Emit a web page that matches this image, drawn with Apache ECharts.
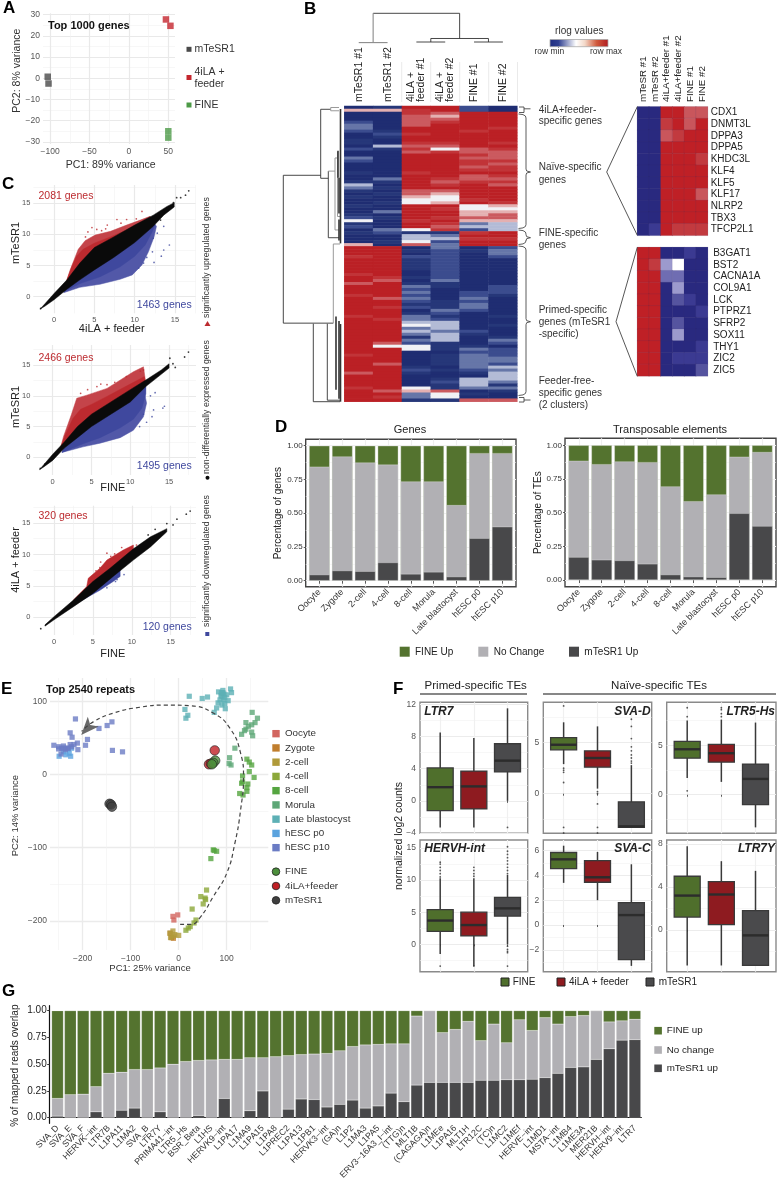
<!DOCTYPE html>
<html><head><meta charset="utf-8">
<style>html,body{margin:0;padding:0;background:#fff}#c{width:778px;height:1186px}</style>
<script src="https://cdn.jsdelivr.net/npm/echarts@6/dist/echarts.min.js"></script>
</head><body><div id="c"></div>
<script>
// ---------- Panel A ----------
const pcaMTeSR = [[-103,0.7],[-102,-2.5]];
const pca4iLA = [[47,27.7],[52.7,24.7]];
const pcaFINE = [[50,-25],[50,-28]];
// ---------- Panel B (levels 0 = row min ... 9 = row max), one char per row ----------
const heatColumns = ['mTeSR1 #1','mTeSR1 #2','4iLA #1','4iLA #2','FINE #1','FINE #2'];
const heatTop = [
 '0 6 0 0 0 2 3 3 2 0 0 1 1 0 2 0 0 3 2 0 0 0 1 0 0 1 4 3 1 0 1 0 0 1 0 0 1 2 5 1 2 0 1 0 0 0 6',
 '1 6 0 0 0 0 0 0 1 2 1 0 0 4 1 0 0 0 0 0 0 0 0 0 3 1 0 1 0 1 0 0 1 0 0 3 0 1 0 0 0 3 2 0 0 1 0',
 '9 8 8 7 7 7 7 9 9 8 9 9 8 7 8 7 9 9 9 9 9 9 8 9 9 9 9 9 7 7 6 5 5 9 9 9 9 9 8 9 9 5 1 4 4 5 7',
 '9 9 7 6 7 8 9 9 9 9 9 9 8 7 5 8 9 9 9 9 9 9 9 9 8 7 8 9 7 6 5 5 6 9 8 9 9 8 9 8 7 8 1 3 4 2 3',
 '2 2 9 9 9 9 9 9 8 9 9 9 9 9 7 7 8 7 8 8 7 8 9 7 7 8 9 9 9 9 9 8 9 5 5 6 6 7 6 3 4 2 8 9 8 9 9',
 '0 0 9 9 9 9 9 8 9 9 9 9 8 9 8 7 7 7 8 7 8 8 9 8 7 8 7 9 9 9 9 9 8 6 5 6 7 7 6 4 4 4 9 9 8 9 9'];
const heatBottom = [
 '9 9 9 8 9 9 9 9 9 8 9 9 7 9 9 9 8 9 9 9 9 9 9 8 9 9 9 9 9 9 9 9 9 9 9 9 8 9 9 9 9 9 7 9 9 9 9 8 9 9 9 9',
 '9 9 9 9 9 9 9 9 9 9 8 7 9 9 9 9 9 7 9 9 8 9 9 9 8 9 9 9 9 9 9 9 7 5 9 9 9 9 9 7 9 9 9 9 9 9 9 9 7 9 8 9',
 '0 1 0 2 1 1 1 1 0 0 1 0 1 3 2 3 2 3 2 1 2 0 1 3 3 4 5 3 4 3 1 3 2 5 5 0 0 0 0 0 1 2 1 0 0 0 0 5 6 3 3 1',
 '3 2 2 2 2 2 2 2 2 2 2 3 1 1 0 0 0 0 1 1 1 3 2 1 2 4 4 4 3 4 4 4 1 1 1 0 1 1 1 1 0 1 0 0 1 2 1 1 7 5 5 1',
 '0 1 0 0 0 0 0 0 0 0 0 0 0 0 0 2 2 3 2 3 3 2 0 0 0 0 0 0 2 1 0 0 0 1 3 2 3 3 3 3 3 2 1 0 4 4 4 3 0 1 0 7',
 '2 3 3 2 0 0 0 0 0 0 0 0 0 2 2 2 1 0 0 0 0 0 0 1 0 0 1 0 0 0 1 3 2 0 2 2 2 3 3 2 4 3 4 4 4 3 1 3 1 0 0 7'];
const naiveGenes = ['CDX1','DNMT3L','DPPA3','DPPA5','KHDC3L','KLF4','KLF5','KLF17','NLRP2','TBX3','TFCP2L1'];
const naiveLevels = [[0,0,9,9,7,7],[0,0,8,9,7,9],[0,0,7,8,9,9],[0,0,9,9,9,9],[0,0,9,9,9,8],[0,0,9,9,9,9],[0,0,9,9,9,9],[0,0,9,9,9,7],[0,0,9,9,9,9],[0,0,9,9,9,9],[0,1,9,8,8,8]];
const primedGenes = ['B3GAT1','BST2','CACNA1A','COL9A1','LCK','PTPRZ1','SFRP2','SOX11','THY1','ZIC2','ZIC5'];
const primedLevels = [[9,9,0,0,1,0],[9,8,4,5,0,0],[9,9,3,3,0,0],[9,9,0,4,0,0],[9,9,0,2,1,0],[9,9,0,0,0,1],[9,9,0,2,0,0],[9,9,0,4,0,0],[9,9,0,0,0,1],[9,9,0,1,1,1],[9,9,0,0,0,2]];
// dendrogram segments: [x1,y1,x2,y2]
const topDendroDark = [[1,1,4,1],[4,0.14,4,1],[3,0.14,5,0.14],[3,0.02,3,0.14],[5,0.02,5,0.14],[2.5,0.02,3.5,0.02],[4.5,0.02,5.5,0.02]];
const topDendroGrey = [[1,0,1,1],[0.5,0,1.5,0]];
const rowDendroDark = [[58.7,23.2,58.7,72.7],[58.7,23.2,21.3,23.2],[58.7,72.7,8.7,72.7],[21.3,1.1,21.3,24.2],[21.3,1.1,11.3,1.1],[21.3,24.2,13.7,24.2],[13.7,21.8,13.7,44.1],[13.7,44.1,3,44.1],[28.7,72.9,28.7,99],[28.7,99,2,99],[14.7,72.9,14.7,98.5],[14.7,98.5,2,98.5]];
const rowDendroGrey = [[7,21.8,13.7,21.8],[7,17.4,7,41.5],[7,17.4,4.5,17.4],[7,41.5,3,41.5],[4.5,15.3,4.5,37],[4.5,37,2,37],[11.3,0.5,3,0.5],[11.3,1.6,3,1.6],[11.3,0.5,11.3,1.6],[8.7,46.2,2,46.2],[8.7,46.2,8.7,72.7]];
const rowDendroThick = [[4,15,4,24],[3,24,3,36],[3,38,3,45],[6,70.5,6,95],[3,72,3,98],[1.5,1,1.5,46],[1.5,73,1.5,99]];
// ---------- Panel C: outlines of the dense point clouds and the single points readable outside them ----------
const c1Black = [[-1.74,-2],[-1.1,-1.1],[0,.5],[1.6,2.7],[3.2,5.4],[5,7.9],[7.4,9.6],[10,11.5],[12.3,13.1],[14,14.5],[14.9,15.1],[14.9,14.4],[13.6,13.1],[12.3,11.3],[10,8.7],[7.4,6.3],[5,4.3],[3.2,2.7],[1.6,1.2],[0,-.5],[-1.1,-1.5]];
const c1Red = [[1.6,2.7],[2,4.3],[2.6,6.3],[3,7.6],[3.85,9],[5.1,9.9],[7,10.5],[9,11.5],[10.7,12.3],[11.9,12.9],[12.3,12.2],[10,10],[7.4,8],[5,6],[3.2,4],[1.6,2]];
const c1RedIn = [[1.6,2.7],[2.2,4.8],[2.8,6.5],[3.6,7.6],[5,8.6],[7,9.6],[9,10.7],[10.7,11.8],[12,12.6],[12.3,12.2],[10,10],[7.4,8],[5,6],[3.2,4],[1.6,2]];
const c1Blue = [[1.2,.65],[3.2,1.5],[5.7,2],[8.2,2.8],[9.7,3.5],[10.9,5.1],[11.7,7.2],[12.4,9.6],[12.7,11.3],[12.3,12],[10,10],[7.4,8],[5,6],[3.2,4],[1.6,2]];
const c1BlueIn = [[1.2,.8],[3.2,2.1],[5.7,3.2],[8.2,4.8],[10,6.5],[11.3,8.3],[12.2,10.5],[12.5,11.6],[12.3,12],[10,10],[7.4,8],[5,6],[3.2,4],[1.6,2]];
const c1RedPts = [[7.8,12.4],[5.3,10.8],[4.7,11.1],[3.9,9.6],[6.4,10.9],[9,12.4],[10.2,12.5],[10.9,13.7],[6.6,11.5],[8.3,11.8],[4.2,10.4],[5.9,10.6]];
const c1BluePts = [[14.3,8.3],[13.6,7.5],[13.3,6.5],[12.2,7.2],[12.4,5.5],[11.1,5.4],[10.5,4.6],[12.8,10.2],[13.6,11.3],[12.3,9.4],[11.5,6.3]];
const c1BlackPts = [[-1.66,-1.9],[15.7,15.9],[15.2,15.9],[16.3,16.3],[16.7,17],[14.8,15.1],[13.6,13.7],[13.2,12.3]];
const c2Black = [[-1.7,-2],[0,.5],[1.5,2.5],[3.2,5],[5,7],[7.5,9],[10,11],[12.3,12.8],[14,14.2],[15,15.2],[15,14.5],[13.5,13],[12,11.5],[10,9],[7.5,7],[5,5],[3.2,3.2],[1.5,1.5],[0,-.5],[-1.2,-1.6]];
const c2Red = [[1,1.5],[1.4,3.4],[2.4,6.9],[3.1,9.6],[4.4,10.1],[7,11.2],[10.4,13.9],[11.7,14.7],[12,12],[10,10],[7.5,8],[5,6],[3.2,4],[1.5,2]];
const c2RedIn = [[1,1.5],[1.6,3.6],[2.6,6.3],[3.6,7.8],[5,8.6],[7,9.9],[10,11.9],[11.8,13.1],[12,12],[10,10],[7.5,8],[5,6],[3.2,4],[1.5,2]];
const c2Blue = [[1.2,.8],[3.9,1.7],[6.1,2.3],[8.7,3.2],[10.4,4.4],[11.7,6.6],[12.1,8.8],[11.9,10.1],[12,12],[10,10],[7.5,8],[5,6],[3.2,4],[1.5,2]];
const c2BlueIn = [[1.2,.8],[3.9,2.2],[6.1,3.2],[8.7,4.8],[10.4,6.2],[11.5,8],[12,10.3],[12,12],[10,10],[7.5,8],[5,6],[3.2,4],[1.5,2]];
const c2RedPts = [[11.7,14.2],[11.3,14],[9.5,13.1],[5.7,11.5],[4.5,11],[8,12.2],[7,11.8],[3.6,10.4],[6.2,11.9]];
const c2BluePts = [[14.4,8.3],[14.2,8],[12.8,6.6],[12.1,5.7],[11.7,7],[13,7.7],[11.2,5],[13.2,10.5],[12.6,10]];
const c2BlackPts = [[-1.6,-1.8],[-1,-1.1],[17.5,17.1],[17,16.3],[15.8,14.6],[15.1,16.1],[15.5,15.2]];
const c3Black = [[-1.16,-1.2],[0,.1],[2.5,2.75],[5,5.7],[7.2,7.8],[10.2,10.9],[12.4,12.8],[14.5,14.1],[14.5,13.6],[12.4,11.2],[10.2,9.1],[7.6,6.5],[5,3.8],[2.5,1.7],[0,-.4],[-1.16,-1.4]];
const c3Red = [[2.5,2.75],[4.2,4.9],[4.4,6.2],[5.9,7.8],[6.8,9.1],[8.9,10.7],[10.2,11.5],[10.2,10],[7.2,7.5],[5,5],[2.5,2.3]];
const c3Blue = [[3.3,2.5],[5.9,4.3],[7.6,5.7],[8.5,6.5],[8.5,8],[5,5],[3,3]];
const c3RedPts = [[6.8,10.2],[7.3,9.7],[8.7,11.1],[10.6,11.5],[5.9,7.9],[5.4,7.4],[6,8.8],[7.8,10.1]];
const c3BluePts = [[9,6.8],[7.9,5.7],[8.1,6],[6.8,4.7]];
const c3BlackPts = [[-1.7,-1.8],[17.5,16.9],[17,16.4],[15.8,15.6],[13,14],[12.1,13.1],[14.5,14.9],[15.3,14.7]];
// ---------- Panel D ----------
const stages = ['Oocyte','Zygote','2-cell','4-cell','8-cell','Morula','Late blastocyst','hESC p0','hESC p10'];
const genesMTeSR = [.045,.075,.07,.135,.05,.065,.03,.315,.40];
const genesNoChangeTop = [.845,.92,.875,.86,.735,.735,.56,.945,.945];
const tesMTeSR = [.17,.15,.145,.12,.04,.025,.02,.495,.40];
const tesNoChangeTop = [.885,.86,.88,.875,.695,.585,.635,.915,.95];
const wholeBar = [1,1,1,1,1,1,1,1,1];
// ---------- Panel E ----------
const oocyte = [[-2,-192],[-12,-194],[-10,-199]];
const zygote = [[-18,-217],[-15,-223],[-11,-224]];
const cell2 = [[-12,-214],[-18,-217],[-8,-219],[0,-220],[-17,-223],[-11,-221]];
const cell4 = [[58,-158],[46,-167],[55,-169],[56,-171],[51,-177],[28,-184],[36,-199],[32,-203],[24,-208],[20,-210],[15,-213]];
const cell8 = [[142,21],[147,17],[152,13],[147,4],[157,-4],[133,-2],[133,-10],[131,-12],[144,-13],[142,-18],[142,-23],[127,-26],[134,-28],[72,-103],[74,-104],[79,-105],[67,-115]];
const morula = [[153,85],[140,71],[164,77],[159,71],[152,68],[145,66],[140,62],[137,60],[131,55],[152,58],[154,53],[117,36],[106,23],[105,15],[109,13]];
const lateBlast = [[22,107],[49,104],[60,106],[13,89],[19,81],[15,77],[83,113],[92,115],[108,117],[110,112],[100,109],[94,110],[90,107],[86,102],[93,102],[103,101],[79,91],[74,85],[97,90],[90,95],[96,97],[88,108],[92,112],[96,105],[82,98],[89,112]];
const hescP0 = [[-269,17],[-249,25],[-235,27],[-225,25],[-228,29],[-223,36],[-240,31],[-230,35]];
const hescP10 = [[-215,76],[-226,57],[-222,51],[-190,48],[-166,63],[-149,67],[-139,72],[-138,33],[-117,31],[-194,40],[-210,34],[-260,40],[-240,39],[-250,38],[-250,35],[-244,36],[-233,36],[-226,41],[-218,41],[-211,43],[-236,34],[-230,36],[-245,28],[-223,38],[-240,36]];
const fineE = [[76,19],[72,16],[69,14]];
const feederE = [[75,33],[63,14],[67,15]];
const mtesrE = [[-144,-40],[-141,-41],[-139,-44]];
const trajectory = [[3,-205],[25,-205],[44,-196],[72,-167],[100,-135],[117,-94],[129,-48],[135,-3],[129,29],[107,63],[72,84],[24,94],[-25,95],[-81,92],[-136,84],[-178,72],[-202,59]];
const trajectoryHead = [[-203,54]];
// ---------- Panel F: [low,q1,median,q3,high] for FINE, 4iLA + feeder, mTeSR1 ----------
const ltr7Box = [[-3.3,-1.2,1.7,4.1,8.5],[-3.3,-1,1.8,3.7,7.8],[0,3.6,5,7.1,11.5]];
const ltr7Out = [[3,-3.3]];
const hervhBox = [[-1.5,2,3.7,5.4,10.3],[-3.4,1.3,3,5,10.3],[0,4.4,5.6,7.3,10.8]];
const hervhOut = [[1,10.5],[1,11],[1,11.5],[1,12],[1,12.5],[1,12.8],[1,-3.4],[2,10.6],[2,11],[2,11.5],[2,12],[2,-3.4],[3,11],[3,11.5],[3,12],[3,12.5],[3,13],[3,13.5],[3,14],[3,14.5],[3,15.2],[3,-.3],[3,-.8],[3,-1.1],[3,-1.3],[3,-3.4]];
const svadBox = [[2.9,4.3,4.8,5.5,7],[.5,2.6,3.5,4.2,6.6],[-3.3,-3.3,-3.2,-.8,2.8]];
const svadOut = [[1,8.6],[1,2.5],[1,2.3],[1,2.1],[1,1.1],[1,-3.3],[1,-3.85],[2,.2],[2,0],[2,-1],[2,-3.3],[2,-3.85],[3,3],[3,3.2],[3,3.5],[3,3.8],[3,4.2],[3,4.6],[3,5.4],[3,6.6],[3,7.3]];
const svacBox = [[3.4,4.55,5.3,5.85,6.4],[2,3.45,3.85,5.2,5.9],[-3.3,-2.8,.8,1.8,4.9]];
const ltr5Box = [[1.7,3.7,4.6,5.4,7.5],[1.3,3.3,4.2,5.1,7.6],[-3.3,-1,1.6,3.1,7.3]];
const ltr5Out = [[1,.4],[1,7.9],[1,8.8],[2,7.9],[2,8.2],[2,8.6],[2,8.8]];
const ltr7yBox = [[-3.3,1.2,3.2,5,7.8],[-3.3,.5,3.3,4.5,6.4],[-3.3,-3.3,-.5,1.8,5.5]];
// ---------- Panel G ----------
const repeats = ['SVA_D','SVA_E','SVA_F','HERVK\u2212int','LTR7B','L1PA11','L1MA2','SVA_B','LTR7Y','PRIMA41\u2212int','LTR5_Hs','BSR_Beta','L1HS','HERVK9\u2212int','L1PA17','L1MA9','L1PA15','L1PA8','L1PREC2','L1PA13','L1PB1','HERVK3\u2212int','(GA)n','L1P2','L1MA3','L1PA5','ERV3\u221216A3_I\u2212int','(TTG)n','MLT1B','(CAGAGA)n','L1MEe','L1PA16','MLT1H','LTR12C','(TC)n','L1MC2','L1MEf','HERVE\u2212int','L1MD1','MSTA\u2212int','L1MB4','L1ME3A','MER21B','HERVH\u2212int','HERV9\u2212int','LTR7'];
const repeatMTeSR = [.015,0,0,.055,0,.07,.09,0,.055,0,0,.02,0,.18,0,.065,.25,0,.08,.175,.17,.10,.125,.165,.09,.11,.23,.15,.305,.33,.33,.33,.33,.35,.35,.355,.355,.36,.375,.415,.47,.475,.545,.645,.725,.73];
const repeatNoChangeTop = [.18,.215,.22,.29,.415,.425,.45,.45,.465,.50,.525,.535,.54,.545,.545,.56,.56,.57,.58,.59,.595,.60,.625,.665,.68,.685,.69,.69,.95,1,.795,.825,.90,.72,.875,.70,.915,.815,.935,.875,.945,.955,1,.895,.905,.92];

// ---------- helpers ----------
const FONT = '"Liberation Sans", Arial, sans-serif';
const GREEN='#54732f', GREY='#b1b0b4', DARK='#48484a', TE_GREEN='#4f6f2c', TE_RED='#8e1b20', TE_DARK='#4a4a4c';
const grids=[], xAxes=[], yAxes=[], series=[], gfx=[];
const minus = v => String(v).replace('-','\u2212');
function addGrid(l,t,r,b,x,y,frame){
  const g=grids.length;
  grids.push({left:l,top:t,width:r-l,height:b-t,containLabel:false,outerBoundsMode:'none',show:!!frame,borderColor:frame||'#000',borderWidth:frame?1.4:0,backgroundColor:'transparent'});
  const xi=xAxes.length, yi=yAxes.length;
  xAxes.push(mk(g,x,'bottom')); yAxes.push(mk(g,y,'left'));
  if(x.minor) xAxes.push(minorAxis(g,x,'top'));
  if(y.minor) yAxes.push(minorAxis(g,y,'right'));
  return {xAxisIndex:xi,yAxisIndex:yi};
}
function mk(g,a,pos){
  if(a.hidden) return {type:a.type||'value',data:a.data,gridIndex:g,min:a.min,max:a.max,show:false,inverse:a.inverse,position:pos};
  return {type:'value',gridIndex:g,position:pos,min:a.min,max:a.max,
    axisLine:{show:false},
    axisTick:{show:!!a.tick,customValues:a.major,length:a.tick||3,lineStyle:{color:'#333',width:.8}},
    axisLabel:{customValues:a.major,fontSize:a.size||8.5,color:a.color||'#555',fontFamily:FONT,margin:a.margin||3,rotate:a.rotate||0,formatter:a.fmt||minus,hideOverlap:false},
    splitLine:{show:!a.nogrid,lineStyle:{color:a.gridColor||'#e9e9e9',width:a.gridW||1.2}}};
}
function minorAxis(g,a,pos){
  return {type:'value',gridIndex:g,position:pos,min:a.min,max:a.max,axisLine:{show:false},
    axisTick:{show:false,customValues:a.minor},axisLabel:{show:false},
    splitLine:{show:true,lineStyle:{color:'#f2f2f2',width:.6}}};
}
function txt(x,y,s,o){o=o||{};
  gfx.push({type:'text',x,y,rotation:o.rot?Math.PI/2:0,silent:true,z:50,style:{text:s,fontFamily:FONT,fontSize:o.size||10,fontWeight:o.bold?'bold':'normal',fontStyle:o.italic?'italic':'normal',fill:o.color||'#222',textAlign:o.align||'left',textVerticalAlign:'middle',verticalAlign:'middle'}});
}
function rect(x,y,w,h,fill,stroke){gfx.push({type:'rect',silent:true,z:50,shape:{x,y,width:w,height:h},style:{fill,stroke:stroke||null,lineWidth:stroke?1:0}});}
function circ(x,y,r,fill,stroke){gfx.push({type:'circle',silent:true,z:50,shape:{cx:x,cy:y,r},style:{fill,stroke:stroke||null,lineWidth:stroke?.8:0}});}
function pl(pts,color,w){gfx.push({type:'polyline',silent:true,z:50,shape:{points:pts},style:{stroke:color||'#333',lineWidth:w||.9,fill:null}});}
function pts(a,name,ix,color,size,extra){series.push(Object.assign({type:'scatter',name,data:a,symbol:'rect',symbolSize:size,itemStyle:{color},silent:true,animation:false},ix,extra||{}));}
function poly(a,ix,fill){series.push(Object.assign({type:'custom',data:[a[0]],silent:true,animation:false,clip:false,
  renderItem:(p,api)=>({type:'polygon',shape:{points:a.map(q=>api.coord(q))},style:{fill,stroke:fill,lineWidth:.5}})},ix));}
function segs(a,ix,color,w){series.push(Object.assign({type:'custom',data:a,silent:true,animation:false,clip:false,encode:{x:[0,2],y:[1,3]},
  renderItem:(p,api)=>{const s=api.coord([api.value(0),api.value(1)]),e=api.coord([api.value(2),api.value(3)]);
    return {type:'line',shape:{x1:s[0],y1:s[1],x2:e[0],y2:e[1]},style:{stroke:color,lineWidth:w,fill:null}};}},ix));}

// ---------- A ----------
{const ix=addGrid(43,13.3,175,144,{min:-109,max:58.5,major:[-100,-50,0,50],minor:[-75,-25,25]},{min:-31,max:30.6,major:[-30,-20,-10,0,10,20,30],minor:[-25,-15,-5,5,15,25]});
 pts(pcaMTeSR,'mTeSR1',ix,'#4a4a4a',6.5); pts(pca4iLA,'4iLA + feeder',ix,'#c4262e',6.5); pts(pcaFINE,'FINE',ix,'#4c9a47',6.5);
 txt(48,25.7,'Top 1000 genes',{bold:true,size:11,color:'#111'});
 txt(110.7,164.7,'PC1: 89% variance',{align:'center',size:10.5,color:'#333'});
 txt(17,70.7,'PC2: 8% variance',{rot:true,align:'center',size:10.5,color:'#333'});
 rect(186.5,46.8,5,5,'#4a4a4a');txt(194.5,49.5,'mTeSR1',{size:10.5,color:'#333'});
 rect(186.5,75,5,5,'#c4262e');txt(194.5,71.7,'4iLA +',{size:10.5,color:'#333'});txt(194.5,84,'feeder',{size:10.5,color:'#333'});
 rect(186.5,102.5,5,5,'#4c9a47');txt(194.5,105,'FINE',{size:10.5,color:'#333'});
}
// ---------- B ----------
const rowCount=99;
const heatCols=heatTop.map((t,i)=>(t+' '+heatBottom[i]).replace(/ /g,''));
const catIdx=n=>Array.from({length:n},(_,i)=>String(i));
let heatSeriesMain, heatSeriesSmall=[];
{const ix=addGrid(344.3,106,517.3,401.7,{hidden:true,type:'category',data:heatColumns},{hidden:true,type:'category',data:catIdx(rowCount),inverse:true});
 const d=[];heatCols.forEach((s,c)=>{for(let r=0;r<s.length;r++)d.push([c,r,+s[r]]);});
 heatSeriesMain=series.length;
 series.push(Object.assign({type:'heatmap',data:d,silent:true,animation:false,progressive:0,itemStyle:{borderWidth:0}},ix));
 const t=addGrid(344.3,13.3,517.3,42.6,{hidden:true,min:0,max:6},{hidden:true,min:0,max:1});
 segs(topDendroDark,t,'#333',.9);segs(topDendroGrey,t,'#8a8a8a',1.1);
 const l=addGrid(270,106,342,401.7,{hidden:true,min:72,max:0},{hidden:true,min:0,max:99,inverse:true});
 segs(rowDendroDark,l,'#333',.9);segs(rowDendroGrey,l,'#999',1);segs(rowDendroThick,l,'#333',1.6);
}
function smallHeat(top,genes,levels,right){
 const grid=grids.length;
 grids.push({left:637.3,top,width:70.4,height:128.7,containLabel:false,outerBoundsMode:'none'});
 xAxes.push({type:'category',gridIndex:grid,data:['a','b','c','d','e','f'],show:false});
 const yi=yAxes.length;
 yAxes.push({type:'category',gridIndex:grid,data:genes,inverse:true,position:'right',axisLine:{show:false},axisTick:{show:false},splitLine:{show:false},
   axisLabel:{interval:0,fontSize:10,color:'#222',fontFamily:FONT,margin:right}});
 const d=[];levels.forEach((row,r)=>row.forEach((v,c)=>d.push([c,r,v])));
 heatSeriesSmall.push(series.length);
 series.push({type:'heatmap',xAxisIndex:xAxes.length-1,yAxisIndex:yi,data:d,silent:true,animation:false,progressive:0,itemStyle:{borderWidth:.4,borderColor:'rgba(70,60,110,.3)'}});
}
smallHeat(106.7,naiveGenes,naiveLevels,3);
smallHeat(247.3,primedGenes,primedLevels,5.5);
// B annotation
[['mTeSR1 #1',359.3],['mTeSR1 #2',388]].forEach(a=>txt(a[1],102,a[0],{rot:true,size:10.5}));
txt(411.5,102,'4iLA +',{rot:true,size:10.5});txt(421.5,102,'feeder #1',{rot:true,size:10.5});
txt(440,102,'4iLA +',{rot:true,size:10.5});txt(450,102,'feeder #2',{rot:true,size:10.5});
txt(474,102,'FINE #1',{rot:true,size:10.5});txt(502.7,102,'FINE #2',{rot:true,size:10.5});
[401.7,430.7,459.7,488.7,517.5].forEach(x=>pl([[x,62],[x,102]],'#e4e4e4',.8));
['mTeSR #1','mTeSR #2','4iLA+feeder #1','4iLA+feeder #2','FINE #1','FINE #2'].forEach((s,i)=>txt(643.2+i*11.73,102,s,{rot:true,size:9.8}));
txt(579.3,31,'rlog values',{align:'center',size:10,color:'#333'});
txt(549.3,51.5,'row min',{align:'center',size:8.5,color:'#333'});
txt(606,51.5,'row max',{align:'center',size:8.5,color:'#333'});
gfx.push({type:'rect',silent:true,z:50,shape:{x:550,y:39.5,width:58,height:7.2},style:{stroke:'#aaa',lineWidth:.8,fill:new echarts.graphic.LinearGradient(0,0,1,0,[{offset:0,color:'#1f2d80'},{offset:.15,color:'#2f3f90'},{offset:.45,color:'#ffffff'},{offset:.6,color:'#f3d8c8'},{offset:.8,color:'#d05a3c'},{offset:1,color:'#b01a20'}])}});
[['4iLA+feeder-',110],['specific genes',121.7],['Na\u00efve-specific',167.7],['genes',180.3],['FINE-specific',233.3],['genes',245.7],['Primed-specific',310.3],['genes (mTeSR1',322.7],['-specific)',334.3],['Feeder-free-',381],['specific genes',393.3],['(2 clusters)',405]].forEach(a=>txt(538.7,a[1],a[0],{size:10,color:'#333'}));
function brace(y0,ym,y1){const x0=518.5,x1=526,x2=530.5;
 pl([[x0,y0],[x1-3,y0+.6],[x1-.6,y0+2],[x1,y0+4],[x1,ym-3],[x1+.7,ym-1],[x2,ym],[x1+.7,ym+1],[x1,ym+3],[x1,y1-4],[x1-.6,y1-2],[x1-3,y1-.6],[x0,y1]],'#333',.8);}
pl([[519,107],[524,107],[524,112.5],[519,112.5]],'#333',.8);pl([[524,108.8],[530.5,108.8]],'#333',.8);
brace(114,172,228.5);brace(230,237.7,244.5);brace(246,321.7,395.5);
pl([[519,397.5],[524,397.5],[524,402],[519,402]],'#333',.8);pl([[524,400],[530.5,400]],'#333',.8);
pl([[637.3,106.7],[606.7,172],[637.3,235.3]],'#444',.9);
pl([[637.3,247.3],[616,321.7],[637.3,376.3]],'#444',.9);
// ---------- C ----------
const RED='#bc2a2f',BLUE='#3f489e',BLK='#0a0a0a',RED_OUT='#c4444a',BLUE_OUT='#5258a8';
const cPanels=[
 {box:[33.3,185,196,313.3],x:[-2.57,17.6],y:[-2.67,17.94],black:c1Black,red:c1Red,redIn:c1RedIn,blue:c1Blue,blueIn:c1BlueIn,rp:c1RedPts,bp:c1BluePts,kp:c1BlackPts},
 {box:[33.3,345,196,475],x:[-2.5,18.47],y:[-2.87,18.25],black:c2Black,red:c2Red,redIn:c2RedIn,blue:c2Blue,blueIn:c2BlueIn,rp:c2RedPts,bp:c2BluePts,kp:c2BlackPts},
 {box:[33.3,505.7,196,635],x:[-2.66,18.25],y:[-2.81,17.75],black:c3Black,red:c3Red,blue:c3Blue,rp:c3RedPts,bp:c3BluePts,kp:c3BlackPts}];
cPanels.forEach(p=>{
 const ix=addGrid(p.box[0],p.box[1],p.box[2],p.box[3],{min:p.x[0],max:p.x[1],major:[0,5,10,15],minor:[2.5,7.5,12.5,17.5],size:7.5},{min:p.y[0],max:p.y[1],major:[0,5,10,15],minor:[2.5,7.5,12.5,17.5],size:7.5});
 if(p.redIn){poly(p.red,ix,RED_OUT);poly(p.redIn,ix,RED);poly(p.blue,ix,BLUE_OUT);poly(p.blueIn,ix,BLUE);}
 else{poly(p.red,ix,RED);poly(p.blue,ix,BLUE);}
 poly(p.black,ix,BLK);
 const e={symbol:'circle'};
 pts(p.rp,'up',ix,RED,1.7,e);pts(p.bp,'down',ix,BLUE,1.7,e);pts(p.kp,'ns',ix,BLK,1.8,e);
});
[['2081 genes',196,'1463 genes',305],['2466 genes',358,'1495 genes',466],['320 genes',516,'120 genes',627]].forEach(a=>{
 txt(38.5,a[1],a[0],{size:10.5,color:RED});txt(191.7,a[3],a[2],{size:10.5,color:BLUE,align:'right'});});
txt(111.7,329,'4iLA + feeder',{align:'center',size:11});
txt(112.7,487.7,'FINE',{align:'center',size:11});
txt(112.7,654,'FINE',{align:'center',size:11});
txt(16,243,'mTeSR1',{rot:true,align:'center',size:11});
txt(16,407,'mTeSR1',{rot:true,align:'center',size:11});
txt(16,560,'4iLA + feeder',{rot:true,align:'center',size:11});
txt(207,257.5,'significantly upregulated genes',{rot:true,align:'center',size:8.8,color:'#333'});
txt(207,407,'non-differentially expressed genes',{rot:true,align:'center',size:8.8,color:'#333'});
txt(207,561,'significantly downregulated genes',{rot:true,align:'center',size:8.8,color:'#333'});
gfx.push({type:'polygon',silent:true,z:50,shape:{points:[[207.5,321],[204.5,326],[210.5,326]]},style:{fill:RED}});
circ(207.5,477.7,2,BLK);rect(205.3,632,4,4,BLUE);
// ---------- D ----------
function stack(box,upper,cum,title,ylab,ytop,ybot,ylabX,titleX){
 const per=(ybot-ytop);
 const ix=addGrid(box[0],box[1],box[2],box[3],
  {min:.4,max:9.6,major:[1,2,3,4,5,6,7,8,9],size:9,color:'#333',rotate:45,tick:3,margin:4,fmt:v=>stages[v-1],gridColor:'#efefef'},
  {min:-(box[3]-ybot)/per,max:1+(ytop-box[1])/per,major:[0,.25,.5,.75,1],minor:[.125,.375,.625,.875],size:8,color:'#333',tick:2,margin:3,fmt:v=>v.toFixed(2),gridColor:'#efefef'},'#444');
 // each bar runs from 0 to the top of its segment; later series paint over earlier ones
 const b=(name,vals,color)=>series.push(Object.assign({type:'bar',name,barGap:'-100%',data:vals.map((v,i)=>[i+1,v]),barWidth:20.6,silent:true,animation:false,itemStyle:{color,borderColor:'rgba(235,235,235,.7)',borderWidth:.5}},ix));
 b('FINE Up',wholeBar,GREEN);b('No Change',cum,GREY);b('mTeSR1 Up',upper,DARK);
 txt(titleX,430,title,{align:'center',size:11,color:'#222'});
 txt(ylabX,(ytop+ybot)/2,ylab,{rot:true,align:'center',size:10,color:'#222'});
}
stack([305.7,439.3,516,586.7],genesMTeSR,genesNoChangeTop,'Genes','Percentage of genes',445.7,580.7,278.3,410);
stack([565,438.3,776,586.7],tesMTeSR,tesNoChangeTop,'Transposable elements','Percentage of TEs',445.3,580,538,670);
[[404.7,'FINE Up',GREEN,414],[483.3,'No Change',GREY,492.7],[574,'mTeSR1 Up',DARK,583.3]].forEach(a=>{rect(a[0]-5,646.7,10,10,a[2]);txt(a[3]+1,652,a[1],{size:10,color:'#222'});});
// ---------- E ----------
const eColors=[['Oocyte',oocyte,'#d2655f'],['Zygote',zygote,'#c07e2e'],['2-cell',cell2,'#b09a3a'],['4-cell',cell4,'#8ca83a'],['8-cell',cell8,'#55a540'],['Morula',morula,'#5ea777'],['Late blastocyst',lateBlast,'#5db0b5'],['hESC p0',hescP0,'#5ba3de'],['hESC p10',hescP10,'#6b7cc4']];
{const ix=addGrid(50,678,268.3,950,{min:-268,max:186.6,major:[-200,-100,0,100],minor:[-250,-150,-50,50,150],gridW:1.3,gridColor:'#ebebeb',size:8.5,margin:4},{min:-240,max:132,major:[-200,-100,0,100],minor:[-150,-50,50],gridW:1.3,gridColor:'#ebebeb',size:8.5});
 eColors.forEach(c=>pts(c[1],c[0],ix,c[2],5.2));
 series.push(Object.assign({type:'line',data:trajectory,smooth:.5,symbol:'none',silent:true,animation:false,lineStyle:{color:'#444',width:1.2,type:[4,3]},z:3},ix));
 pts(trajectoryHead,'arrow',ix,'#444',[11,18],{symbol:'arrow',symbolRotate:138,z:4});
 const dots=(a,n,c)=>pts(a,n,ix,c,9.5,{symbol:'circle',z:5,itemStyle:{color:c,borderColor:'#222',borderWidth:.8}});
 dots(mtesrE,'mTeSR1','#3f3f3f');dots(feederE,'4iLA+feeder','#c01f25');dots(fineE,'FINE','#4c8f3c');
 txt(46,690,'Top 2540 repeats',{bold:true,size:11,color:'#111'});
 txt(150,968.7,'PC1: 25% variance',{align:'center',size:9.5,color:'#333'});
 txt(15,815.7,'PC2: 14% variance',{rot:true,align:'center',size:9.5,color:'#333'});
 eColors.forEach((c,i)=>{const y=670+(191+i*42.75)/3;rect(272.3,y-3.7,7.4,7.4,c[2]);txt(285,y,c[0],{size:9.8,color:'#333'});});
 [['FINE','#4c8f3c',605],['4iLA+feeder','#c01f25',648],['mTeSR1','#3f3f3f',691]].forEach(a=>{const y=670+a[2]/3;circ(276,y,3.8,a[1],'#222');txt(285,y,a[0],{size:9.8,color:'#333'});});
}
// ---------- F ----------
const teColors=[TE_GREEN,TE_RED,TE_DARK];
function tePanel(box,yr,major,minor,boxes,outs,label,right){
 const ix=addGrid(box[0],box[1],box[2],box[3],{min:.4,max:3.6,major:[1,2,3],size:1,tick:2,margin:40,fmt:()=>'' ,gridColor:'#f0f0f0'},{min:yr[0],max:yr[1],major,minor,size:8.5,margin:4,gridColor:'#ececec'},'#8a8a8a');
 series.push(Object.assign({type:'custom',data:boxes.map((b,i)=>[i+1].concat(b)),silent:true,animation:false,encode:{x:0,y:[1,2,3,4,5]},z:3,
  renderItem:(p,api)=>{const x=api.value(0),f=teColors[x-1],c=v=>api.coord([x,v]),lo=c(api.value(1)),q1=c(api.value(2)),m=c(api.value(3)),q3=c(api.value(4)),hi=c(api.value(5)),w=13,st='#3a3a3a';
   return {type:'group',children:[
    {type:'line',shape:{x1:lo[0],y1:lo[1],x2:hi[0],y2:hi[1]},style:{stroke:st,lineWidth:1.5}},
    {type:'rect',shape:{x:q3[0]-w,y:q3[1],width:2*w,height:q1[1]-q3[1]},style:{fill:f,stroke:st,lineWidth:1.3}},
    {type:'line',shape:{x1:m[0]-w,y1:m[1],x2:m[0]+w,y2:m[1]},style:{stroke:'#2c2c2c',lineWidth:2.4}}]};}},ix));
 if(outs.length)pts(outs,'outliers',ix,'#2e2e2e',1.8,{symbol:'circle',z:4});
 if(right) txt(box[2]-1,box[1]+9,label,{bold:true,italic:true,size:12,color:'#222',align:'right'});
 else txt(box[0]+4.3,box[1]+9,label,{bold:true,italic:true,size:12,color:'#222'});
}
const FT=702.3,FB=833.3,GT=840,GB=971.7;
tePanel([420,FT,527.7,FB],[-4.03,12.25],[-4,0,4,8,12],[-2,2,6,10],ltr7Box,ltr7Out,'LTR7',false);
tePanel([543.3,FT,651.7,FB],[-3.88,8.96],[0,5],[-2.5,2.5,7.5],svadBox,svadOut,'SVA-D',true);
tePanel([666.7,FT,776,FB],[-3.9,9.35],[0,5],[-2.5,2.5,7.5],ltr5Box,ltr5Out,'LTR5-Hs',true);
tePanel([420,GT,527.7,GB],[-4.27,16.25],[0,5,10,15],[-2.5,2.5,7.5,12.5],hervhBox,hervhOut,'HERVH-int',false);
tePanel([543.3,GT,651.7,GB],[-3.77,6.86],[-2,0,2,4,6],[-3,-1,1,3,5],svacBox,[],'SVA-C',true);
tePanel([666.7,GT,776,GB],[-3.88,8.37],[0,4,8],[-2,2,6],ltr7yBox,[],'LTR7Y',true);
txt(475.7,685.7,'Primed-specific TEs',{align:'center',size:11.5,color:'#222'});
txt(659,685.7,'Na\u00efve-specific TEs',{align:'center',size:11.5,color:'#222'});
pl([[420,694],[527,694]],'#111',1.2);pl([[543,694],[776,694]],'#111',1.2);
txt(399.5,836,'normalized log2 counts',{rot:true,align:'center',size:10.5,color:'#222'});
[[505,'FINE',TE_GREEN,512.7],[561,'4iLA + feeder',TE_RED,569],[650,'mTeSR1',TE_DARK,658.7]].forEach(a=>{rect(a[0]-4,978,8,8,a[2],'#222');txt(a[3],982.3,a[1],{size:10,color:'#222'});});
// ---------- G ----------
{const g=grids.length;
 grids.push({left:51.1,top:1005.7,width:590.2,height:117.6,containLabel:false,outerBoundsMode:'none'});
 xAxes.push({type:'category',gridIndex:g,data:repeats,axisLine:{lineStyle:{color:'#111',width:1.2}},axisTick:{alignWithLabel:true,length:2.5,lineStyle:{color:'#333'}},splitLine:{show:false},
   axisLabel:{interval:0,rotate:45,fontSize:8.8,color:'#333',fontFamily:FONT,margin:3.5,hideOverlap:false}});
 yAxes.push({type:'value',gridIndex:g,min:-.0523,max:1.0467,offset:1.4,axisLine:{show:true,lineStyle:{color:'#111',width:1.2}},axisTick:{show:true,length:2.5,customValues:[0,.25,.5,.75,1],lineStyle:{color:'#333'}},splitLine:{show:false},
   axisLabel:{customValues:[0,.25,.5,.75,1],fontSize:10,color:'#222',fontFamily:FONT,margin:3,formatter:v=>v.toFixed(2)}});
 const ix={xAxisIndex:xAxes.length-1,yAxisIndex:yAxes.length-1};
 const b=(name,vals,color)=>series.push(Object.assign({type:'bar',name,stack:'g',data:vals,barCategoryGap:'9%',silent:true,animation:false,itemStyle:{color,borderColor:'rgba(225,225,225,.5)',borderWidth:.4}},ix));
 b('mTeSR1 up',repeatMTeSR,DARK);b('No change',repeatNoChangeTop.map((c,i)=>c-repeatMTeSR[i]),GREY);b('FINE up',repeatNoChangeTop.map(c=>1-c),GREEN);
 txt(15,1065.7,'% of mapped reads overlap',{rot:true,align:'center',size:10,color:'#222'});
 [['FINE up',GREEN,1030.7],['No change',GREY,1050],['mTeSR1 up',DARK,1068.3]].forEach(a=>{rect(654.3,a[2]-3.8,7.6,7.6,a[1]);txt(666.7,a[2],a[0],{size:9.8,color:'#222'});});
}
// panel letters
[['A',3,8],['B',304,9],['C',2,184],['D',275,427],['E',1,689],['F',393,689],['G',2,991]].forEach(a=>txt(a[1],a[2],a[0],{bold:true,size:17,color:'#000'}));

const mainColors=['#1f2d72','#263779','#3b4c8e','#6676a8','#b3bbd6','#f1f1f5','#e4b0b1','#cb5a5f','#c13438','#bb2025'];
const smallColors=['#29297f','#3b3a92','#55549f','#6f6db2','#9c9acd','#ffffff','#eec0c0','#c9565c','#c23a3f','#bf2026'];
const chart=echarts.init(document.getElementById('c'),null,{renderer:'canvas'});
chart.setOption({animation:false,backgroundColor:'#fff',textStyle:{fontFamily:FONT},
 grid:grids,xAxis:xAxes,yAxis:yAxes,series,graphic:{elements:gfx},
 visualMap:[
  {show:false,type:'continuous',min:0,max:9,seriesIndex:heatSeriesMain,inRange:{color:mainColors}},
  {show:false,type:'continuous',min:0,max:9,seriesIndex:heatSeriesSmall,inRange:{color:smallColors}}]});
</script></body></html>
